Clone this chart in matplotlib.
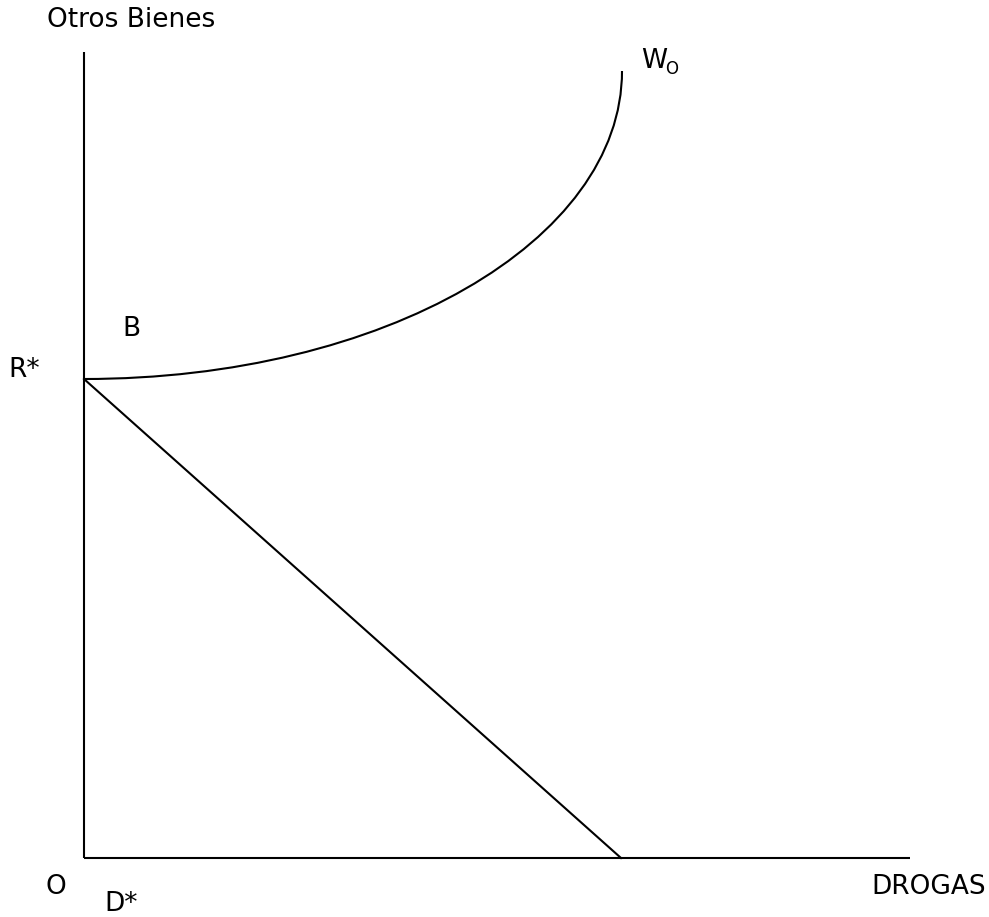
import matplotlib
matplotlib.use("Agg")
import matplotlib.pyplot as plt
from matplotlib.path import Path
from matplotlib.patches import PathPatch

# Diagram data (units: horizontal = drugs, vertical = other goods)
axis_x_end = 826
axis_y_end = 806
r_star = 479          # intercept on vertical axis
budget_x_end = 537    # intercept on horizontal axis
# indifference curve W_O as a cubic Bezier (start, control, control, end)
curve_ctrl_x = [0, 300, 538, 538]
curve_ctrl_y = [479, 479, 617, 787]

fig = plt.figure(figsize=(9.89, 9.17), dpi=100)
ax = fig.add_axes([0, 0, 1, 1])
ax.set_xlim(-84, 905)
ax.set_ylim(-59, 858)
ax.axis("off")

lw = 1.5
ax.plot([0, 0], [0, axis_y_end], color="black", lw=lw, solid_capstyle="butt")
ax.plot([0, axis_x_end], [0, 0], color="black", lw=lw, solid_capstyle="butt")
ax.plot([0, budget_x_end], [r_star, 0], color="black", lw=lw)

verts = list(zip(curve_ctrl_x, curve_ctrl_y))
codes = [Path.MOVETO, Path.CURVE4, Path.CURVE4, Path.CURVE4]
ax.add_patch(PathPatch(Path(verts, codes), facecolor="none", edgecolor="black", lw=lw))

fs = 19
ax.text(-37, 838, "Otros Bienes", fontsize=fs, ha="left", va="center")
ax.text(-60, 488, "R*", fontsize=fs, ha="center", va="center")
ax.text(47, 529, "B", fontsize=fs, ha="center", va="center")
ax.text(570, 797, "W", fontsize=fs, ha="center", va="center")
ax.text(588, 789, "O", fontsize=12, ha="center", va="center")
ax.text(-28, -29, "O", fontsize=fs, ha="center", va="center")
ax.text(37, -46, "D*", fontsize=fs, ha="center", va="center")
ax.text(845, -29, "DROGAS", fontsize=fs, ha="center", va="center")

fig.savefig("out.png", dpi=100)
